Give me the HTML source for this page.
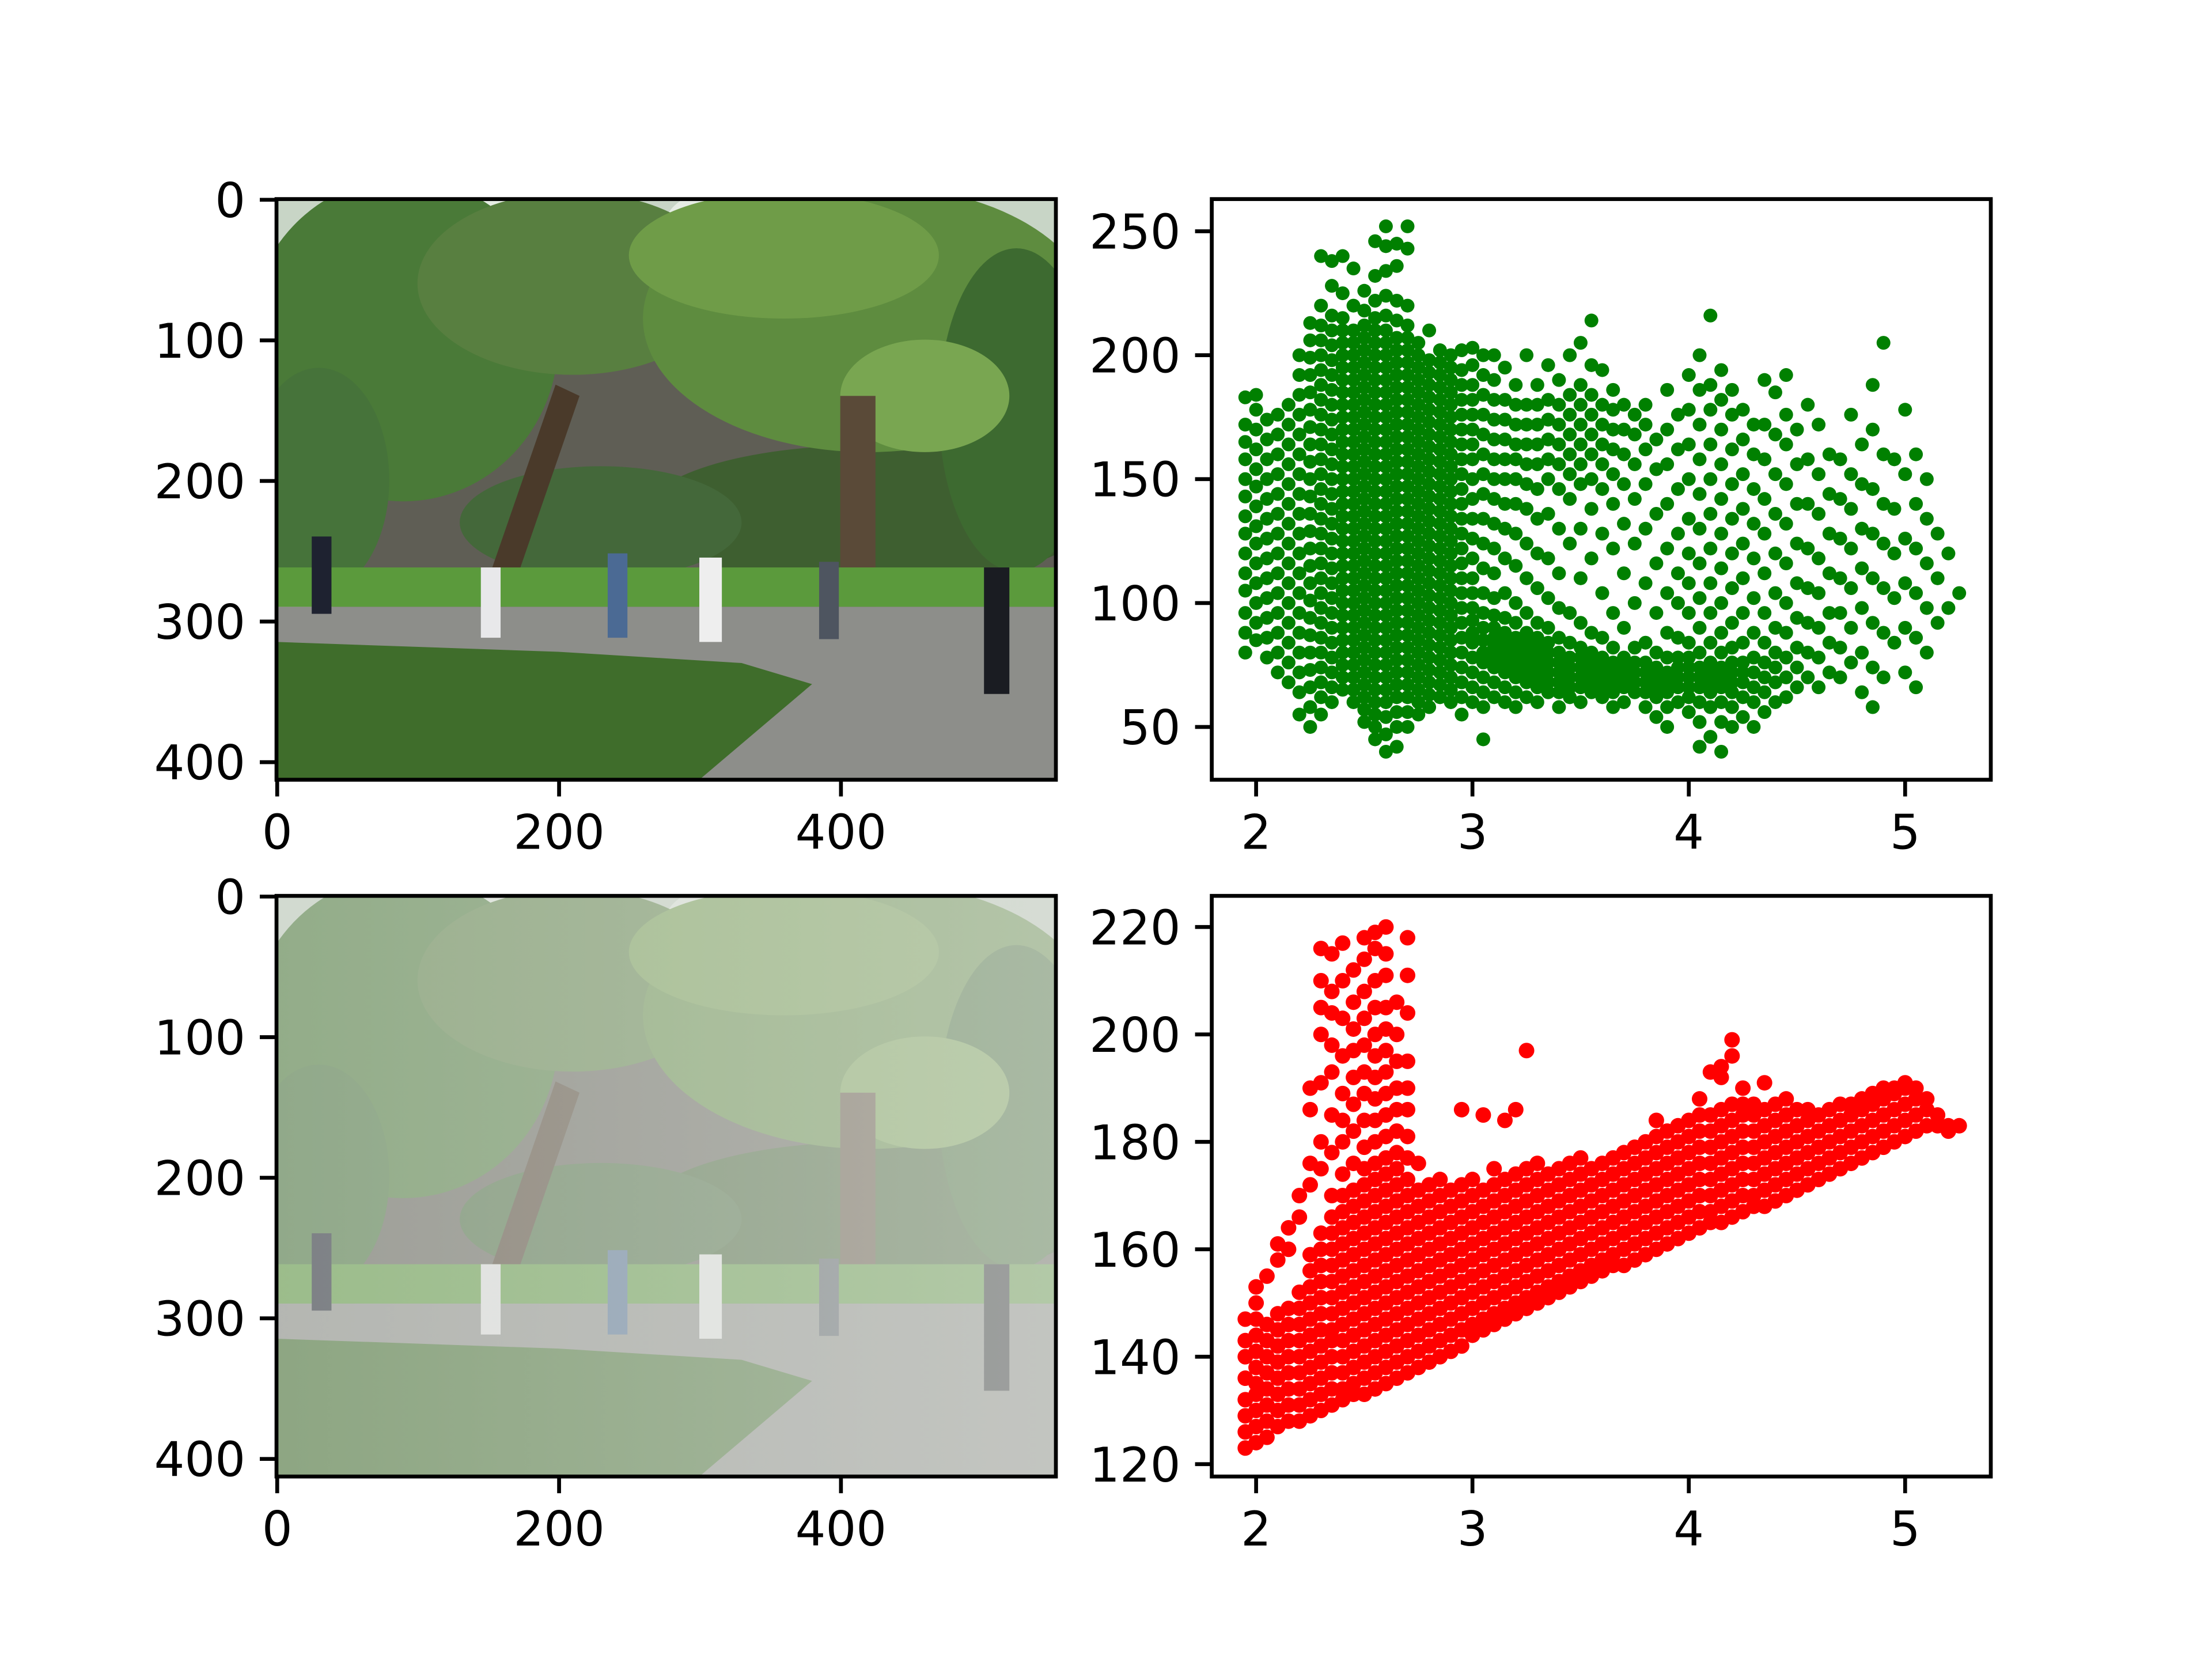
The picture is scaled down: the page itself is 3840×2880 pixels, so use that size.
<!DOCTYPE html>
<html><head><meta charset="utf-8">
<style>
html,body{margin:0;padding:0;background:#fff;}
svg{display:block;}
text{font-family:"DejaVu Sans","Liberation Sans",sans-serif;font-size:83px;fill:#000;}
</style></head>
<body>
<svg id="fig" xmlns="http://www.w3.org/2000/svg" width="3840" height="2880" viewBox="0 0 3840 2880">
<rect x="0" y="0" width="3840" height="2880" fill="#fff"/>
<defs>
<g id="scene">
  <rect x="0" y="0" width="553" height="413" fill="#c8d5c6"/>
  <rect x="40" y="60" width="513" height="240" fill="#5f5e55"/>
  <ellipse cx="320" cy="20" rx="45" ry="28" fill="#e6ede4"/>
  <ellipse cx="150" cy="12" rx="35" ry="16" fill="#e6ede4"/>
  <ellipse cx="420" cy="225" rx="160" ry="50" fill="#3e5f30"/>
  <ellipse cx="230" cy="230" rx="100" ry="40" fill="#44683a"/>
  <ellipse cx="90" cy="100" rx="110" ry="115" fill="#4a7a38"/>
  <ellipse cx="210" cy="60" rx="110" ry="65" fill="#587f40"/>
  <ellipse cx="30" cy="200" rx="50" ry="80" fill="#46733a"/>
  <ellipse cx="420" cy="85" rx="160" ry="95" fill="#5e8c3f"/>
  <ellipse cx="525" cy="150" rx="55" ry="115" fill="#3d6a30"/>
  <ellipse cx="360" cy="40" rx="110" ry="45" fill="#6f9c48"/>
  <ellipse cx="460" cy="140" rx="60" ry="40" fill="#79a651"/>
  <polygon points="140,300 160,300 215,140 198,132" fill="#4a3a2a"/>
  <rect x="400" y="140" width="25" height="160" fill="#5a4a38"/>
  <rect x="0" y="262" width="553" height="28" fill="#5b9a3c"/>
  <rect x="0" y="290" width="553" height="123" fill="#8d8e8a"/>
  <polygon points="0,315 200,322 330,330 380,345 300,413 0,413" fill="#3f6d2b"/>
  <rect x="25" y="240" width="14" height="55" fill="#1e2230"/>
  <rect x="145" y="262" width="14" height="50" fill="#e8e8ea"/>
  <rect x="235" y="252" width="14" height="60" fill="#4b6a94"/>
  <rect x="300" y="255" width="16" height="60" fill="#eeeeee"/>
  <rect x="385" y="258" width="14" height="55" fill="#4e5560"/>
  <rect x="502" y="262" width="18" height="90" fill="#1a1c22"/>
</g>
<linearGradient id="haze" x1="0" y1="0" x2="1" y2="0">
  <stop offset="0" stop-color="#dcdfda" stop-opacity="0.5"/>
  <stop offset="1" stop-color="#dcdfda" stop-opacity="0.68"/>
</linearGradient>
</defs>
<g id="layer"></g>
</svg>
<script>
// ---------------- data ----------------
const imgXTicks = [0, 200, 400];
const imgYTicks = [0, 100, 200, 300, 400];
const scXTicks = [2, 3, 4, 5];
const greenYTicks = [50, 100, 150, 200, 250];
const redYTicks = [120, 140, 160, 180, 200, 220];

const redX = [1.95,2.00,2.05,2.10,2.15,2.20,2.25,2.30,2.35,2.40,2.45,2.50,2.55,2.60,2.65,2.70,2.75,2.80,2.85,2.90,2.95,3.00,3.05,3.10,3.15,3.20,3.25,3.30,3.35,3.40,3.45,3.50,3.55,3.60,3.65,3.70,3.75,3.80,3.85,3.90,3.95,4.00,4.05,4.10,4.15,4.20,4.25,4.30,4.35,4.40,4.45,4.50,4.55,4.60,4.65,4.70,4.75,4.80,4.85,4.90,4.95,5.00,5.05,5.10,5.15,5.20,5.25];
const redY = [
"123 126 129 132 136 140 143 147",
"124 127 130 133 135 138 141 144 147 150 153",
"125 128 131 134 137 140 143 146 155",
"127 130 133 136 139 142 145 148 158 161",
"128 131 134 137 140 143 146 149 160 164",
"128 131 134 137 140 143 146 149 152 166 170",
"129 132 135 138 141 144 147 150 153 156 159 172 176 186 190",
"130 133 136 139 142 145 148 151 154 157 160 163 175 180 191 200 205 210 216",
"131 134 137 140 143 145 148 151 154 157 160 163 166 170 178 185 193 198 204 208 215",
"132 134 137 140 143 146 149 152 155 158 161 164 167 170 174 180 184 189 196 203 210 217",
"133 135 138 141 144 147 150 153 156 159 162 165 168 171 176 182 187 192 197 201 206 212",
"133 136 139 142 145 148 151 154 157 160 163 166 169 172 175 179 184 189 193 198 203 208 214 218",
"134 137 140 143 146 149 152 155 158 161 164 167 170 173 176 180 184 188 192 196 200 205 210 216 219",
"135 138 141 144 147 150 153 156 159 162 165 168 171 174 177 181 185 189 193 197 201 205 211 215 220",
"136 139 142 145 148 151 154 157 160 163 166 169 172 175 178 182 186 190 195 200 206",
"137 140 143 146 149 152 155 158 161 164 167 170 173 177 181 186 190 195 204 211 218",
"138 141 144 147 150 153 156 159 162 165 168 171 176",
"139 142 145 148 151 154 157 160 163 166 169 172",
"140 143 146 149 152 155 158 161 164 167 170 173",
"141 144 147 150 153 156 159 162 165 168 171",
"142 145 148 151 154 157 160 163 166 169 172 186",
"144 146 149 152 155 158 161 164 167 170 173",
"145 147 150 153 156 159 162 165 168 171 185",
"146 148 151 154 157 160 163 166 169 172 175",
"147 149 152 155 158 161 164 167 170 173 184",
"148 150 153 156 159 162 165 168 171 174 186",
"149 151 154 157 160 163 166 169 172 175 197",
"150 152 155 158 161 164 167 170 173 176",
"151 153 156 159 162 165 168 171 174",
"152 154 157 160 163 166 169 172 175",
"153 155 158 161 164 167 170 173 176",
"154 156 159 162 165 168 171 174 177",
"155 157 160 163 166 169 172 175",
"156 158 161 164 167 170 173 176",
"157 159 162 165 168 171 174 177",
"157 160 163 166 169 172 175 178",
"158 161 164 167 170 173 176 179",
"159 162 165 168 171 174 177 180",
"160 163 166 169 172 175 178 181 184",
"161 164 167 170 173 176 179 182",
"162 165 168 171 174 177 180 183",
"163 166 169 172 175 178 181 184",
"164 167 170 173 176 179 182 185 188",
"165 167 170 173 176 179 182 185 193",
"165 168 171 174 177 180 183 186 192 194",
"166 169 172 175 178 181 184 187 196 199",
"167 170 173 176 179 182 185 187 190",
"168 170 173 176 179 182 185 187",
"168 171 174 177 180 183 186 191",
"169 172 175 178 181 184 187",
"170 173 176 179 182 185 188",
"171 174 177 180 183 186",
"172 175 178 181 184 186",
"173 176 179 182 185",
"174 177 180 183 186",
"175 178 181 184 187",
"176 179 182 185 187",
"177 180 183 186 188",
"178 181 184 187 189",
"179 182 185 188 190",
"180 183 186 189 190",
"181 184 187 190 191",
"182 185 188 190",
"183 186 188",
"183 185",
"183 182",
"183"];

const greenX = [1.95,2.00,2.05,2.10,2.15,2.20,2.25,2.30,2.35,2.40,2.45,2.50,2.55,2.60,2.65,2.70,2.75,2.80,2.85,2.90,2.95,3.00,3.05,3.10,3.15,3.20,3.25,3.30,3.35,3.40,3.45,3.50,3.55,3.60,3.65,3.70,3.75,3.80,3.85,3.90,3.95,4.00,4.05,4.10,4.15,4.20,4.25,4.30,4.35,4.40,4.45,4.50,4.55,4.60,4.65,4.70,4.75,4.80,4.85,4.90,4.95,5.00,5.05,5.10,5.15,5.20,5.25];
const greenY = [
"80 88 96 105 112 120 128 135 143 150 158 165 172 183",
"85 92 100 108 116 124 131 139 147 154 162 170 178 184",
"78 86 94 102 110 118 126 134 142 150 158 166 174",
"72 80 88 96 104 112 120 128 136 144 152 160 168 176",
"68 76 84 92 100 108 116 124 132 140 148 156 164 172 180",
"55 64 72 80 88 96 104 112 120 128 136 144 152 160 168 176 184 192 200",
"50 58 66 73 80 87 94 101 108 115 122 129 136 143 150 157 164 171 178 185 192 199 206 213",
"55 62 68 74 80 86 92 98 104 110 116 122 128 134 140 146 152 158 164 170 176 182 188 194 200 206 212 220 240",
"60 66 72 78 84 90 96 102 108 114 120 126 132 138 144 150 156 162 168 174 180 186 192 198 204 210 216 228 238",
"65 70 75 80 85 90 95 100 105 110 115 120 125 130 135 140 145 150 155 160 165 170 175 180 185 190 195 200 205 210 215 225 240",
"60 65 70 75 80 85 90 95 100 105 110 115 120 125 130 135 140 145 150 155 160 165 170 175 180 185 190 195 200 205 210 220 235",
"52 57 62 67 72 77 82 87 92 97 102 107 112 117 122 127 132 137 142 147 152 157 162 167 172 177 182 187 192 197 202 207 212 218 226",
"45 50 55 60 65 70 75 80 85 90 95 100 105 110 115 120 125 130 135 140 145 150 155 160 165 170 175 180 185 190 195 200 205 210 215 222 232 246",
"40 47 54 60 65 70 75 80 85 90 95 100 105 110 115 120 125 130 135 140 145 150 155 160 165 170 175 180 185 190 195 200 205 210 216 224 234 244 252",
"42 50 56 62 67 72 77 82 87 92 97 102 107 112 117 122 127 132 137 142 147 152 157 162 167 172 177 182 187 192 197 202 207 214 222 236 245",
"50 56 62 67 72 77 82 87 92 97 102 107 112 117 122 127 132 137 142 147 152 157 162 167 172 177 182 187 192 197 202 207 212 220 243 252",
"55 60 65 70 75 80 85 90 95 100 105 110 115 120 125 130 135 140 145 150 155 160 165 170 175 180 185 190 195 200 205",
"58 63 68 73 78 83 88 93 98 103 108 113 118 123 128 133 138 143 148 153 158 163 168 173 178 183 188 193 198 210",
"62 67 72 77 82 87 92 97 102 107 112 117 122 127 132 137 142 147 152 157 162 167 172 177 182 187 192 197 202",
"60 65 70 75 80 85 90 95 100 105 110 115 120 125 130 135 140 145 150 155 160 165 170 175 180 185 190 195 200",
"55 62 68 74 80 86 92 98 104 110 116 122 128 134 140 146 152 158 164 170 176 182 188 194 202",
"60 66 72 78 84 88 93 98 104 110 118 126 134 142 150 158 164 170 176 182 188 196 203",
"45 58 64 70 76 80 85 90 96 104 114 124 134 144 152 160 168 176 184 192 200",
"62 68 74 78 82 86 90 95 102 112 122 132 142 150 158 166 174 182 190 200",
"60 66 72 76 80 84 88 94 104 118 130 140 150 158 166 174 182 195",
"58 64 70 74 78 82 86 92 100 115 128 140 150 158 164 172 180 188",
"62 68 72 76 80 84 88 96 110 124 138 148 156 164 172 180 200",
"60 66 70 74 78 82 86 92 106 120 134 146 156 164 172 180 188",
"64 68 72 76 80 84 90 102 118 136 150 158 166 174 182 196",
"58 64 68 72 76 80 86 98 112 130 146 156 164 172 180 190",
"62 66 70 74 78 84 96 124 142 152 160 168 176 184 200",
"60 66 70 74 78 82 92 110 130 148 156 164 172 180 188 205",
"64 68 72 76 80 88 118 138 150 160 168 176 184 196 214",
"62 66 70 74 78 86 104 128 146 156 164 172 180 194",
"58 64 68 72 76 82 96 122 140 152 162 170 178 186",
"60 66 70 74 78 90 112 132 148 160 170 180",
"64 68 72 76 82 100 124 142 156 168 176",
"58 64 68 72 76 84 108 130 148 162 172 180",
"54 62 66 70 74 80 96 116 136 154 166",
"50 58 64 68 72 78 88 104 122 140 156 170 186",
"60 66 70 74 78 86 100 112 128 146 162 176",
"56 62 66 70 74 78 84 96 108 120 134 150 164 178 192",
"42 52 60 66 70 74 80 90 102 116 130 144 158 172 186 200",
"46 58 64 68 72 76 84 96 108 122 136 150 164 178 188 216",
"40 52 60 66 70 74 80 88 100 114 128 142 156 170 182 194",
"50 58 64 68 72 76 82 92 106 120 134 148 162 176 186",
"54 62 68 72 76 84 96 110 124 138 152 166 178",
"50 60 66 72 78 88 102 118 132 146 160 172",
"56 64 70 76 84 96 112 128 142 158 172 190",
"60 68 74 80 90 104 120 136 152 168 185",
"62 70 78 88 100 116 132 148 164 176 192",
"66 74 82 94 108 124 140 156 170",
"70 80 92 106 122 140 158 180",
"66 78 90 104 118 136 152 172",
"72 84 96 112 128 144 160",
"70 82 96 110 126 142 158",
"76 90 106 122 138 152 176",
"64 80 98 114 130 148 164",
"58 74 92 110 128 146 170 188",
"70 88 106 124 140 160 205",
"84 102 120 138 158",
"72 90 108 126 152 178",
"66 86 104 122 140 160",
"80 98 116 134 150",
"92 110 128",
"98 120",
"104"];

// ---------------- drawing ----------------
const NS = 'http://www.w3.org/2000/svg';
const layer = document.getElementById('layer');
const LW = 6.7, TL = 29, PAD = 29;

function mk(tag, attrs, parent) {
  const e = document.createElementNS(NS, tag);
  for (const k in attrs) e.setAttribute(k, attrs[k]);
  (parent || layer).appendChild(e);
  return e;
}
function scaleLin(d0, d1, r0, r1) { return v => r0 + (v - d0) / (d1 - d0) * (r1 - r0); }

function drawAxes(name, box, xlim, ylim, xticks, yticks) {
  const g = mk('g', {});
  
  
  const sx = scaleLin(xlim[0], xlim[1], box.x0, box.x1);
  const sy = scaleLin(ylim[0], ylim[1], box.y1, box.y0);
  const tg = mk('g', {}, g);
  
  
  xticks.forEach(t => {
    const x = sx(t);
    const l = mk('line', {x1: x, x2: x, y1: box.y1, y2: box.y1 + TL, stroke: '#000', 'stroke-width': LW}, tg);
    
    
    const tx = mk('text', {x: x, y: box.y1 + TL + PAD + 62, 'text-anchor': 'middle'}, tg);
    
    
    tx.textContent = String(t);
  });
  yticks.forEach(t => {
    const y = sy(t);
    const l = mk('line', {x1: box.x0 - TL, x2: box.x0, y1: y, y2: y, stroke: '#000', 'stroke-width': LW}, tg);
    
    
    const tx = mk('text', {x: box.x0 - TL - PAD + 4, y: y + 30, 'text-anchor': 'end'}, tg);
    
    
    tx.textContent = String(t);
  });
  return {g, sx, sy};
}
function frame(g, box, name) {
  const r = mk('rect', {x: box.x0, y: box.y0, width: box.x1 - box.x0, height: box.y1 - box.y0, fill: 'none', stroke: '#000', 'stroke-width': LW}, g);
  
  
}
function drawImage(g, box, hazy, name) {
  const s = mk('svg', {x: box.x0, y: box.y0, width: box.x1 - box.x0, height: box.y1 - box.y0, viewBox: '0 0 553 413', preserveAspectRatio: 'none'}, g);
  
  
  mk('use', {href: '#scene'}, s);
  if (hazy) {
    const h = mk('rect', {x: 0, y: 0, width: 553, height: 413, fill: 'url(#haze)'}, s);
    
    
  }
}
function drawScatter(g, ax, xs, ys, color, r, name) {
  const pg = mk('g', {fill: color}, g);
  
  
  xs.forEach((x, i) => {
    const col = (ys[i] || '').trim();
    if (!col) return;
    col.split(/\s+/).map(Number).forEach(y => {
      const c = mk('circle', {cx: ax.sx(x), cy: ax.sy(y), r: r}, pg);
      
      
    });
  });
}

const topY = [345.6, 1353.6], botY = [1555.2, 2563.2];
const imgXL = [-0.5, 552.5], imgYL = [412.5, -0.5];
const scXL = [1.795, 5.396];

const b1 = {x0: 480, x1: 1833, y0: topY[0], y1: topY[1]};
const a1 = drawAxes('original-image-axes', b1, imgXL, imgYL, imgXTicks, imgYTicks);
drawImage(a1.g, b1, false, 'original-image');
frame(a1.g, b1, 'original-image-frame');

const b2 = {x0: 2103.6, x1: 3456, y0: topY[0], y1: topY[1]};
const a2 = drawAxes('green-scatter-axes', b2, scXL, [28.7, 263], scXTicks, greenYTicks);
drawScatter(a2.g, a2, greenX, greenY, '#008000', 12, 'green-scatter-points');
frame(a2.g, b2, 'green-scatter-frame');

const b3 = {x0: 480, x1: 1833, y0: botY[0], y1: botY[1]};
const a3 = drawAxes('hazy-image-axes', b3, imgXL, imgYL, imgXTicks, imgYTicks);
drawImage(a3.g, b3, true, 'hazy-image');
frame(a3.g, b3, 'hazy-image-frame');

const b4 = {x0: 2103.6, x1: 3456, y0: botY[0], y1: botY[1]};
const a4 = drawAxes('red-scatter-axes', b4, scXL, [117.7, 225.8], scXTicks, redYTicks);
drawScatter(a4.g, a4, redX, redY, '#ff0000', 13.5, 'red-scatter-points');
frame(a4.g, b4, 'red-scatter-frame');
</script>
</body></html>
